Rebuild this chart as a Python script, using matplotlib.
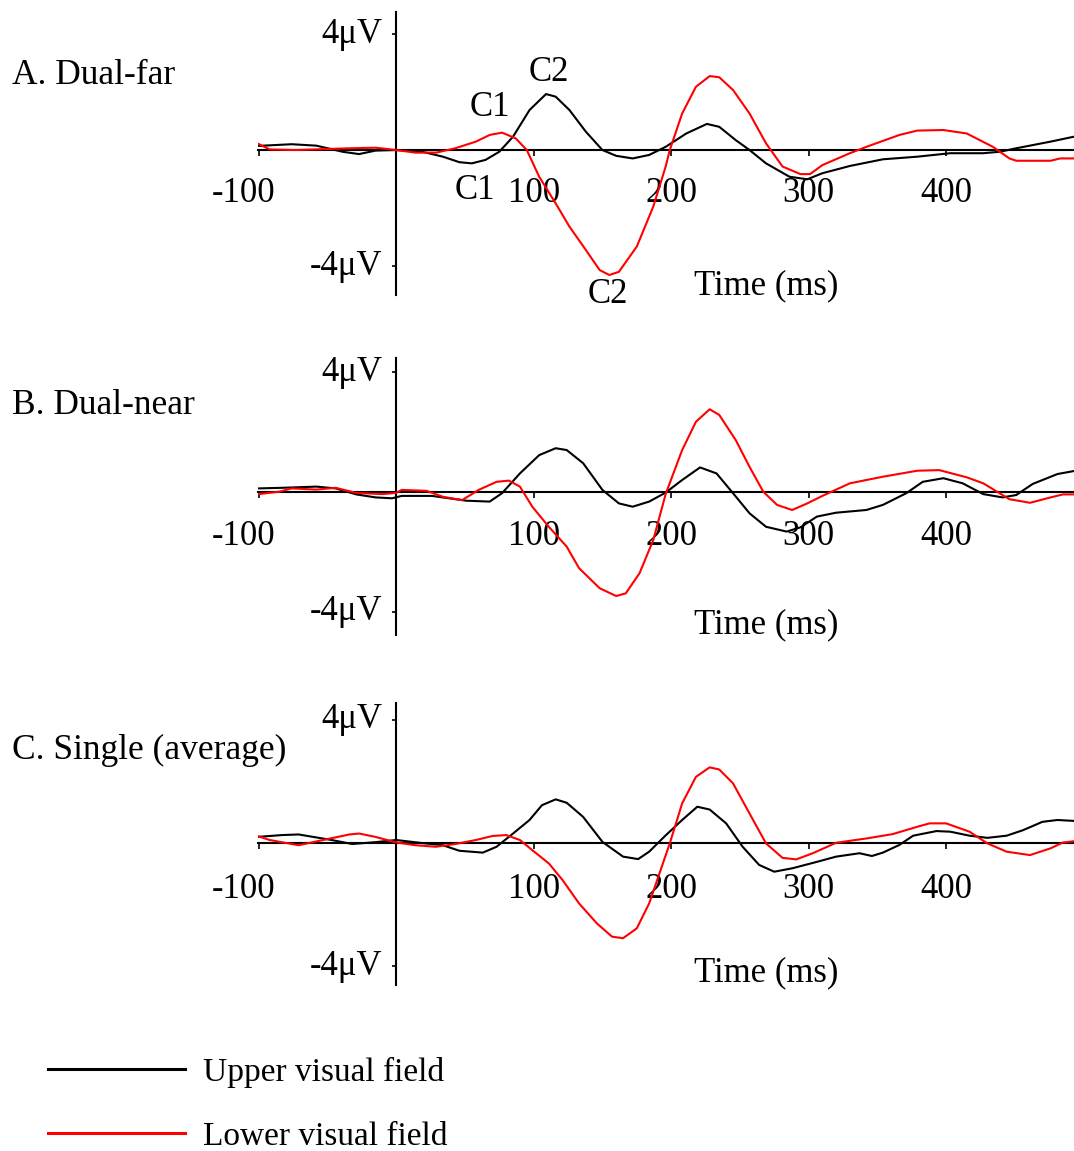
"""
Grand-average ERP waveforms for upper vs lower visual field stimuli
Three stacked panels (Dual-far, Dual-near, Single average)
"""

import matplotlib.pyplot as plt

plt.rcParams['font.family'] = ['Liberation Serif', 'DejaVu Serif']

# ---- waveform samples (time in ms, amplitude in microvolts) ----
far_upper_t = [-101, -76, -58, -39, -27, -15, 0, 19, 34, 46, 55, 65, 75, 85,
               97, 109, 116, 126, 138, 150, 160, 172, 184, 196, 211, 226, 235,
               247, 257, 269, 286, 299, 310, 330, 354, 379, 403, 427, 439,
               451, 476, 493]
far_upper_v = [0.14, 0.2, 0.15, -0.06, -0.14, -0.02, 0, -0.06, -0.23, -0.42,
               -0.46, -0.34, -0.06, 0.46, 1.38, 1.93, 1.84, 1.38, 0.63, 0,
               -0.2, -0.29, -0.17, 0.11, 0.57, 0.9, 0.8, 0.34, 0, -0.46,
               -0.92, -1.01, -0.8, -0.55, -0.32, -0.23, -0.11, -0.11, -0.06,
               0.06, 0.29, 0.46]
far_lower_t = [-101, -92, -73, -34, -15, 0, 14, 29, 43, 58, 68, 77, 87, 95,
               104, 116, 126, 138, 148, 155, 162, 175, 187, 196, 199, 208, 218,
               228, 235, 245, 257, 269, 281, 294, 301, 310, 330, 342, 366, 379,
               398, 415, 434, 446, 451, 476, 483, 493]
far_lower_v = [0.23, 0.02, 0, 0.06, 0.08, 0, -0.09, -0.09, 0.06, 0.29, 0.52,
               0.6, 0.4, 0, -0.92, -1.84, -2.64, -3.45, -4.14, -4.31, -4.2,
               -3.33, -1.95, -0.57, 0, 1.26, 2.18, 2.55, 2.51, 2.07, 1.26,
               0.23, -0.57, -0.83, -0.83, -0.52, -0.11, 0.11, 0.52, 0.67,
               0.69, 0.57, 0.11, -0.29, -0.37, -0.37, -0.29, -0.29]

near_upper_t = [-100, -83, -58, -44, -29, -15, -3, 4, 26, 51, 68, 77, 90, 104,
                116, 124, 136, 150, 162, 172, 184, 196, 208, 221, 233, 245,
                257, 269, 284, 294, 306, 320, 342, 354, 371, 383, 398, 412,
                427, 441, 451, 463, 481, 493]
near_upper_v = [0.12, 0.14, 0.18, 0.12, -0.08, -0.18, -0.21, -0.13, -0.13,
                -0.29, -0.32, -0.04, 0.62, 1.23, 1.46, 1.4, 0.96, 0.07, -0.38,
                -0.49, -0.32, -0.02, 0.4, 0.82, 0.62, -0.04, -0.71, -1.16,
                -1.32, -1.18, -0.82, -0.69, -0.6, -0.43, -0.04, 0.34, 0.46,
                0.29, -0.07, -0.18, -0.1, 0.27, 0.6, 0.7]
near_lower_t = [-100, -85, -76, -58, -44, -29, -10, 0, 4, 22, 34, 48, 60, 73,
                82, 90, 99, 111, 124, 133, 148, 160, 167, 177, 187, 196, 208,
                218, 228, 235, 247, 257, 267, 277, 288, 299, 310, 330, 354,
                379, 395, 415, 427, 446, 461, 476, 485, 493]
near_lower_v = [-0.07, 0.01, 0.12, 0.08, 0.14, -0.03, -0.07, -0.03, 0.07, 0.04,
                -0.16, -0.27, 0.07, 0.34, 0.38, 0.18, -0.49, -1.16, -1.82,
                -2.54, -3.21, -3.47, -3.38, -2.71, -1.6, -0.07, 1.4, 2.34,
                2.76, 2.57, 1.73, 0.84, 0.01, -0.43, -0.6, -0.38, -0.13, 0.29,
                0.51, 0.71, 0.73, 0.49, 0.29, -0.24, -0.36, -0.18, -0.08, -0.08]

single_upper_t = [-101, -83, -71, -47, -32, -15, 0, 19, 34, 46, 63, 73, 85, 97,
                  106, 116, 124, 136, 150, 165, 176, 184, 196, 208, 219, 228,
                  240, 252, 264, 275, 288, 306, 320, 337, 346, 354, 366, 376,
                  393, 403, 417, 430, 444, 456, 470, 481, 493]
single_upper_v = [0.2, 0.26, 0.28, 0.1, -0.03, 0.03, 0.1, 0, -0.07, -0.25,
                  -0.31, -0.12, 0.31, 0.75, 1.23, 1.42, 1.31, 0.85, 0.04,
                  -0.44, -0.52, -0.28, 0.25, 0.75, 1.18, 1.09, 0.64, -0.12,
                  -0.71, -0.93, -0.82, -0.61, -0.44, -0.33, -0.42, -0.31,
                  -0.06, 0.24, 0.39, 0.37, 0.24, 0.17, 0.24, 0.42, 0.69, 0.75,
                  0.72]
single_lower_t = [-101, -92, -71, -51, -34, -27, -15, 0, 14, 29, 43, 58, 70, 80,
                  90, 99, 111, 121, 133, 146, 157, 165, 175, 184, 194, 199, 208,
                  218, 228, 235, 245, 257, 269, 281, 291, 303, 320, 342, 361,
                  379, 388, 400, 417, 430, 444, 461, 476, 485, 493]
single_lower_v = [0.23, 0.1, -0.07, 0.12, 0.28, 0.31, 0.2, 0.02, -0.07, -0.12,
                  -0.03, 0.1, 0.23, 0.26, 0.1, -0.23, -0.66, -1.2, -1.96, -2.61,
                  -3.04, -3.09, -2.77, -1.96, -0.66, -0.01, 1.29, 2.15, 2.46,
                  2.39, 1.94, 0.96, -0.01, -0.48, -0.53, -0.33, 0.01, 0.15,
                  0.29, 0.53, 0.64, 0.64, 0.37, -0.01, -0.28, -0.39, -0.17,
                  0.02, 0.06]

panel_titles = ['A. Dual-far', 'B. Dual-near', 'C. Single (average)']
time_ticks = [-100, 100, 200, 300, 400]
time_labels = ['-100', '100', '200', '300', '400']
volt_ticks = [4, -4]
volt_labels = ['4\u03bcV', '-4\u03bcV']
series_names = ['Upper visual field', 'Lower visual field']

panels = [
    (far_upper_t, far_upper_v, far_lower_t, far_lower_v),
    (near_upper_t, near_upper_v, near_lower_t, near_lower_v),
    (single_upper_t, single_upper_v, single_lower_t, single_lower_v),
]

# ---- layout (pixels on a 1074 x 1151 canvas) ----
W, H = 1074, 1151
FS = 25
# (axes top px, axes bottom px, ymax, ymin, title y px, "Time" label y)
layout = [
    (12, 295, 4.76, -5.0, 75, -4.69),
    (358, 635, 4.47, -4.77, 405, -4.43),
    (703, 985, 4.55, -4.61, 750, -4.22),
]
X_LEFT_PX = 258
XLIM = (-100.5, 493)

fig = plt.figure(figsize=(W / 100, H / 100), dpi=100)
fig.patch.set_facecolor('white')

handles = []
for i, ((ut, uv, lt, lv), (top, bot, ymax, ymin, title_y, time_y)) in \
        enumerate(zip(panels, layout)):
    ax = fig.add_axes([X_LEFT_PX / W, 1 - bot / H,
                       (W - X_LEFT_PX) / W, (bot - top) / H])
    ax.set_xlim(*XLIM)
    ax.set_ylim(ymin, ymax)
    ax.patch.set_alpha(0)

    # axes cross at the origin
    for side in ['top', 'right']:
        ax.spines[side].set_visible(False)
    ax.spines['left'].set_position(('data', 0))
    ax.spines['bottom'].set_position(('data', 0))
    for side in ['left', 'bottom']:
        ax.spines[side].set_linewidth(1.5)
        ax.spines[side].set_color('black')

    ax.set_xticks(time_ticks)
    ax.set_xticklabels([])
    ax.set_yticks(volt_ticks)
    ax.set_yticklabels([])
    ax.tick_params(axis='x', direction='out', length=4.5, width=1.2)
    ax.tick_params(axis='y', direction='out', length=3, width=1.2)

    l1, = ax.plot(ut, uv, color='black', linewidth=1.5, zorder=3,
                  label=series_names[0])
    l2, = ax.plot(lt, lv, color='#FF0000', linewidth=1.5, zorder=3,
                  label=series_names[1])
    if i == 0:
        handles = [l1, l2]

    # tick labels sit well below the zero line
    for t, lab in zip(time_ticks, time_labels):
        xpos = t - 11 if t < 0 else t
        ax.text(xpos, -1.5, lab, ha='center', va='center', fontsize=FS,
                zorder=1)
    for v, lab in zip(volt_ticks, volt_labels):
        ax.text(-10, v, lab, ha='right', va='center', fontsize=FS)

    ax.text(269, time_y, 'Time (ms)', ha='center', va='center', fontsize=FS)
    fig.text(12 / W, 1 - title_y / H, panel_titles[i], ha='left',
             va='center', fontsize=FS + 0.5)

    # component labels on the Dual-far panel
    if i == 0:
        ax.text(111, 2.66, 'C2', ha='center', va='center', fontsize=FS)
        ax.text(68, 1.45, 'C1', ha='center', va='center', fontsize=FS)
        ax.text(57, -1.38, 'C1', ha='center', va='center', fontsize=FS)
        ax.text(154, -4.97, 'C2', ha='center', va='center', fontsize=FS)

fig.legend(handles=handles, loc='upper left',
           bbox_to_anchor=(48 / W, 1 - 1057 / H), frameon=False,
           fontsize=24, handlelength=4.1, handletextpad=0.55,
           labelspacing=1.0, borderpad=0, borderaxespad=0)
for lh in fig.legends[0].get_lines():
    lh.set_linewidth(2.2)

fig.savefig('out.png', dpi=100, facecolor='white')
